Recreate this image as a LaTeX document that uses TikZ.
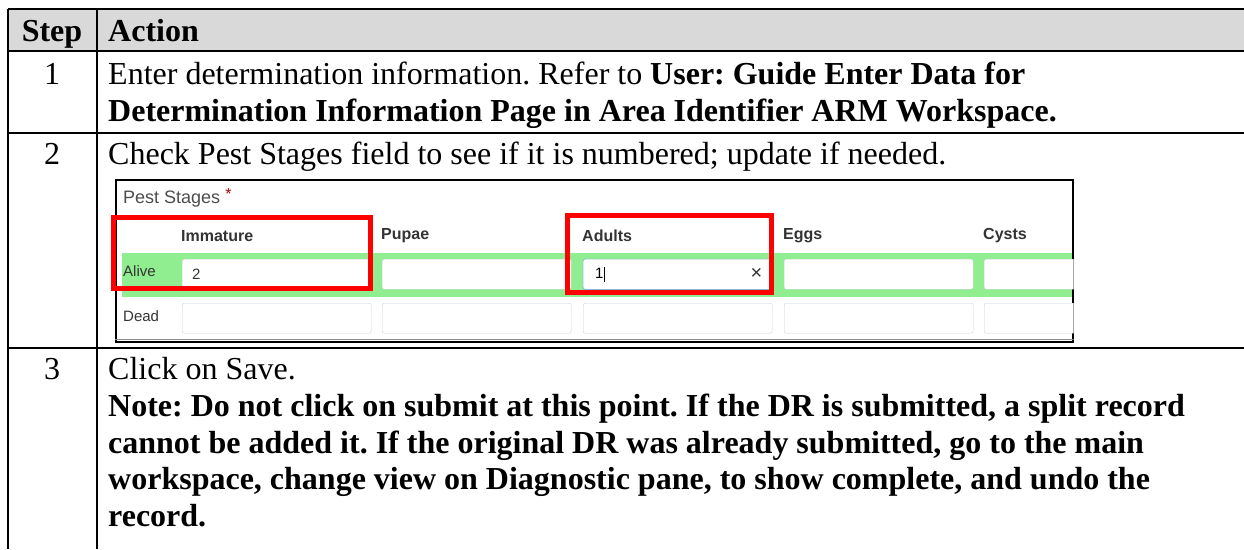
\documentclass[tikz,border=0pt]{standalone}
\usepackage{fontspec}
\setmainfont{Liberation Serif}
\setsansfont{Liberation Sans}
\usepackage{tikz}
\usetikzlibrary{positioning}
\frenchspacing
\definecolor{hdrgray}{HTML}{D9D9D9}
\definecolor{rowgreen}{HTML}{90EE90}
\definecolor{focusblue}{HTML}{66AFE9}
\definecolor{uitext}{HTML}{333333}
\tikzset{
  cell/.style={anchor=base west,inner sep=0pt,font=\fontsize{32}{36.8}\selectfont},
  num/.style={anchor=base,inner sep=0pt,font=\fontsize{32}{36.8}\selectfont},
  grid/.style={line width=2.4pt},
  field/.style={draw=black!18,fill=white,rounded corners=2pt,minimum width=189pt,
    minimum height=30pt,anchor=north west,inner sep=0pt},
  ui/.style={inner sep=0pt,anchor=west,font=\sffamily\fontsize{15}{17}\selectfont,text=uitext},
  uihead/.style={ui,font=\sffamily\bfseries\fontsize{16}{18}\selectfont},
  redbox/.style={draw=red,line width=5pt}
}

\begin{document}
\begin{tikzpicture}[x=1pt,y=-1pt]
  \useasboundingbox (0,0) rectangle (1244,549);
  % header
  \fill[hdrgray] (8,9) rectangle (1244,51);
  \node[num] (h_step) at (52,41) {\bfseries Step};
  \node[cell] (h_act) at (108,41) {\bfseries Action};
  % step 1
  \node[num] (s_1) at (52,84) {1};
  \node[cell] (a_1a) at (108,84) {Enter determination information. Refer to \textbf{User: Guide Enter Data for}};
  \node[cell] (a_1b) at (108,121) {\bfseries Determination Information Page in Area Identifier ARM Workspace.};
  % step 2
  \node[num] (s_2) at (52,164) {2};
  \node[cell] (a_2) at (108,164) {Check Pest Stages field to see if it is numbered; update if needed.};
  % screenshot
  \node[draw=black,line width=1.5pt,minimum width=957pt,minimum height=162pt,
    anchor=north west,inner sep=0pt] (shot) at (115,179) {};
  \begin{scope}
    \clip (shot.north west) rectangle (shot.south east);
    \fill[rowgreen] (122,253) rectangle (1072,297);
    \foreach \x/\lab [count=\i] in {182/Immature,382/Pupae,583/Adults,784/Eggs,984/Cysts}{
      \node[uihead] (col_\i) at (\x-1,236) {\lab};
      \node[field] (alive_\i) at (\x,259) {};
      \node[field] (dead_\i) at (\x,303) {};
    }
    \draw[black!45,line width=1pt] ([yshift=3pt]shot.south west) -- ([yshift=3pt]shot.south east);
  \end{scope}
  \draw[focusblue,rounded corners=2pt] (alive_3.north west) rectangle (alive_3.south east);
  \node[ui,font=\sffamily\fontsize{18}{20}\selectfont,text=black!70] (title) at (123,198)
    {Pest Stages \textcolor{red!70!black}{\fontsize{16}{16}\selectfont\raisebox{4pt}{*}}};
  \node[ui] (l_alive) at (123,271) {Alive};
  \node[ui] (l_dead) at (123,316) {Dead};
  \node[ui] (v_2) at ([xshift=10pt]alive_1.west) {2};
  \node[ui,text=black] (v_1) at ([xshift=12pt]alive_3.west) {1\rule[-3pt]{0.8pt}{15pt}};
  \node[ui,anchor=east,font=\sffamily\fontsize{20}{20}\selectfont] (v_x) at ([xshift=-10pt]alive_3.east) {×};
  \draw[redbox] (113,217) rectangle (370,288);
  \draw[redbox] (567,215) rectangle (771,292);
  % step 3
  \node[num] (s_3) at (52,379) {3};
  \node[cell] (a_3a) at (108,379) {Click on Save.};
  \node[cell] (a_3b) at (108,416) {\bfseries Note: Do not click on submit at this point. If the DR is submitted, a split record};
  \node[cell] (a_3c) at (108,453) {\bfseries cannot be added it. If the original DR was already submitted, go to the main};
  \node[cell] (a_3d) at (108,489) {\bfseries workspace, change view on Diagnostic pane, to show complete, and undo the};
  \node[cell] (a_3e) at (108,526) {\bfseries record.};
  % grid
  \draw[grid] (8,9) -- (1244,9) (8,51) -- (1244,51) (8,133) -- (1244,133) (8,348) -- (1244,348);
  \draw[grid] (8,9) -- (8,549) (97,9) -- (97,549);
\end{tikzpicture}
\end{document}
